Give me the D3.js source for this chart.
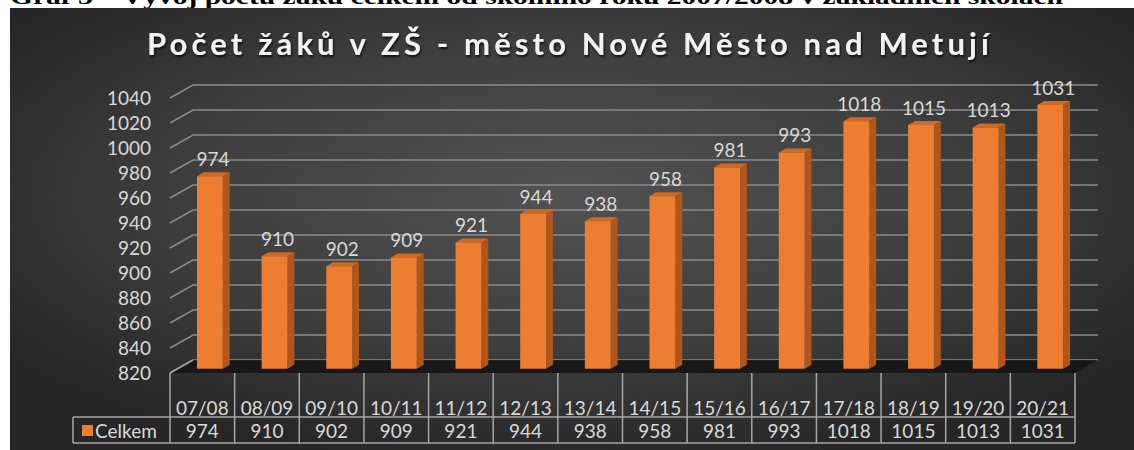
<!DOCTYPE html>
<html><head><meta charset="utf-8">
<script src="https://cdn.jsdelivr.net/npm/d3@7"></script>
<style>html,body{margin:0;padding:0;background:#fff;}svg{display:block;}</style>
</head><body>
<svg id="c" width="1134" height="450"></svg>
<script>
const categories = ["07/08","08/09","09/10","10/11","11/12","12/13","13/14","14/15","15/16","16/17","17/18","18/19","19/20","20/21"];
const values = [974,910,902,909,921,944,938,958,981,993,1018,1015,1013,1031];
const yTicks = [820,840,860,880,900,920,940,960,980,1000,1020,1040];
const seriesName = "Celkem";
const titleText = "Počet žáků v ZŠ - město Nové Město nad Metují";
const headingText = "Graf 3 – Vývoj počtu žáků celkem od školního roku 2007/2008 v základních školách";

const FONT = "Lato, 'Noto Sans', sans-serif";
const FS = 19;
const svg = d3.select("#c");
const defs = svg.append("defs");
const rg = defs.append("radialGradient").attr("id","bg")
  .attr("cx","0.5").attr("cy","0.42").attr("r","0.62");
rg.append("stop").attr("offset","0").attr("stop-color","#525252");
rg.append("stop").attr("offset","0.6").attr("stop-color","#3c3c3c");
rg.append("stop").attr("offset","1").attr("stop-color","#262626");
const sh = defs.append("filter").attr("id","ts").attr("x","-5%").attr("y","-20%").attr("width","110%").attr("height","140%");
sh.append("feDropShadow").attr("dx",1).attr("dy",2).attr("stdDeviation",1.2).attr("flood-color","#000").attr("flood-opacity",0.7);

// heading (cut off at top, as in the source)
svg.append("text").attr("x",10).attr("y",4).text(headingText)
  .attr("font-family","Liberation Serif, serif").attr("font-weight","bold").attr("font-size",22)
  .attr("textLength",1053).attr("lengthAdjust","spacingAndGlyphs").attr("fill","#000");

svg.append("rect").attr("x",10).attr("y",8).attr("width",1124).attr("height",442).attr("fill","url(#bg)");

svg.append("text").attr("x",568).attr("y",55).attr("text-anchor","middle").text(titleText)
  .attr("font-family",FONT).attr("font-size",31).attr("font-weight",700)
  .attr("textLength",842).attr("lengthAdjust","spacing")
  .attr("fill","#f2f2f2").attr("filter","url(#ts)");

const x = d3.scaleBand().domain(categories).range([170,1075]).padding(0);
const y = d3.scaleLinear().domain([820,1040]).range([373,98]);
const DX = 23, DY = -13; // depth offset to back wall

const grid = svg.append("g");
yTicks.forEach(t => {
  const yf = y(t), yb = yf + DY;
  grid.append("path").attr("d", `M170,${yf}L${170+DX},${yb}L${1075+DX},${yb}`)
    .attr("fill","none").attr("stroke","#8a8a8a").attr("stroke-width",1.6);
});
svg.append("g").selectAll("text").data(yTicks).join("text")
  .attr("x",151).attr("y",d=>y(d)+7).attr("text-anchor","end").text(d=>d)
  .attr("font-family",FONT).attr("font-size",FS).attr("fill","#d9d9d9");

// floor
svg.append("path").attr("d",`M170,${y(820)}L${170+DX},${y(820)+DY}L${1075+DX},${y(820)+DY}L1075,${y(820)}Z`)
  .attr("fill","#141414").attr("opacity",0.85);

// bars
const bw = x.bandwidth()*0.40;
const f1 = 0.33, fd = 0.30;
const bars = svg.append("g");
categories.forEach((c,i) => {
  const v = values[i];
  const x0 = x(c) + (x.bandwidth()-bw)/2 + DX*f1;
  const x1 = x0 + bw;
  const yT = y(v) + DY*f1, yB = y(820) + DY*f1;
  const ddx = DX*fd, ddy = DY*fd;
  bars.append("path").attr("d",`M${x1},${yT}L${x1+ddx},${yT+ddy}L${x1+ddx},${yB+ddy}L${x1},${yB}Z`).attr("fill","#b0561c");
  bars.append("path").attr("d",`M${x0},${yT}L${x1},${yT}L${x1+ddx},${yT+ddy}L${x0+ddx},${yT+ddy}Z`).attr("fill","#cf6a26");
  bars.append("rect").attr("x",x0).attr("y",yT).attr("width",bw).attr("height",yB-yT).attr("fill","#ed7d31");
  bars.append("text").attr("x",(x0+x1)/2+3).attr("y",yT-10).attr("text-anchor","middle").text(v)
    .attr("font-family",FONT).attr("font-size",FS).attr("fill","#d9d9d9");
});

// data table
const tbl = svg.append("g").attr("stroke","#a6a6a6").attr("stroke-width",1.5).attr("fill","none");
const tTop = 373, tMid = 417, tBot = 443, lx = 73;
const edges = categories.map(c=>x(c)).concat([1075]);
edges.forEach(e => tbl.append("line").attr("x1",e).attr("x2",e).attr("y1",tTop).attr("y2",tBot));
tbl.append("line").attr("x1",lx).attr("x2",1075).attr("y1",tMid).attr("y2",tMid);
tbl.append("line").attr("x1",lx).attr("x2",1075).attr("y1",tBot).attr("y2",tBot);
tbl.append("line").attr("x1",lx).attr("x2",lx).attr("y1",tMid).attr("y2",tBot);
tbl.append("line").attr("x1",170).attr("x2",170+DX).attr("y1",tTop).attr("y2",tTop+DY);

const tt = svg.append("g").attr("font-family",FONT).attr("font-size",FS).attr("fill","#d9d9d9").attr("text-anchor","middle");
categories.forEach((c,i) => {
  const cx = x(c)+x.bandwidth()/2;
  tt.append("text").attr("x",cx).attr("y",415).text(c);
  tt.append("text").attr("x",cx).attr("y",438).text(values[i]);
});
svg.append("rect").attr("x",82).attr("y",425).attr("width",11).attr("height",11).attr("fill","#ed7d31");
svg.append("text").attr("x",95).attr("y",438).text(seriesName)
  .attr("font-family",FONT).attr("font-size",FS).attr("fill","#d9d9d9");
</script>
</body></html>
